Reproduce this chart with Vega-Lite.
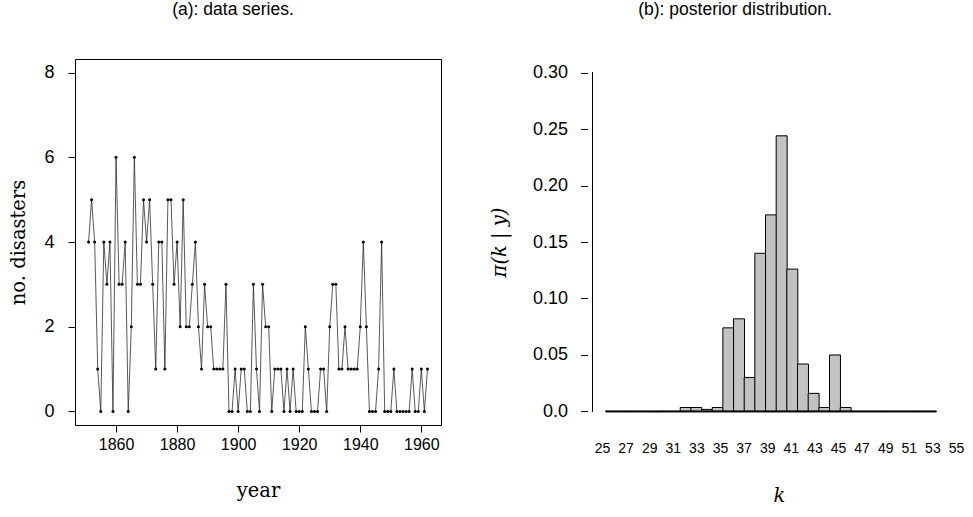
{
  "$schema": "https://vega.github.io/schema/vega-lite/v6.json",
  "background": "white",
  "padding": {"left": 8, "top": 0, "right": 5, "bottom": 3},
  "bounds": "flush",
  "spacing": 146.5,
  "config": {
    "view": {"stroke": null},
    "axis": {"grid": false, "labelFont": "Liberation Sans", "titleFont": "DejaVu Serif", "labelColor": "black", "titleColor": "black", "tickColor": "black", "domainColor": "black", "titleFontWeight": "normal", "labelFontSize": 16, "titleFontSize": 19.5},
    "title": {"font": "Liberation Sans", "fontSize": 17.5, "fontWeight": "normal", "color": "black"}
  },
  "hconcat": [
    {
      "title": {"text": "(a): data series.", "dx": -25, "offset": 41},
      "width": 366,
      "height": 366,
      "view": {"stroke": "black", "strokeWidth": 1},
      "data": {"values": [
        {"year":1851,"disasters":4},{"year":1852,"disasters":5},{"year":1853,"disasters":4},{"year":1854,"disasters":1},{"year":1855,"disasters":0},
        {"year":1856,"disasters":4},{"year":1857,"disasters":3},{"year":1858,"disasters":4},{"year":1859,"disasters":0},{"year":1860,"disasters":6},
        {"year":1861,"disasters":3},{"year":1862,"disasters":3},{"year":1863,"disasters":4},{"year":1864,"disasters":0},{"year":1865,"disasters":2},
        {"year":1866,"disasters":6},{"year":1867,"disasters":3},{"year":1868,"disasters":3},{"year":1869,"disasters":5},{"year":1870,"disasters":4},
        {"year":1871,"disasters":5},{"year":1872,"disasters":3},{"year":1873,"disasters":1},{"year":1874,"disasters":4},{"year":1875,"disasters":4},
        {"year":1876,"disasters":1},{"year":1877,"disasters":5},{"year":1878,"disasters":5},{"year":1879,"disasters":3},{"year":1880,"disasters":4},
        {"year":1881,"disasters":2},{"year":1882,"disasters":5},{"year":1883,"disasters":2},{"year":1884,"disasters":2},{"year":1885,"disasters":3},
        {"year":1886,"disasters":4},{"year":1887,"disasters":2},{"year":1888,"disasters":1},{"year":1889,"disasters":3},{"year":1890,"disasters":2},
        {"year":1891,"disasters":2},{"year":1892,"disasters":1},{"year":1893,"disasters":1},{"year":1894,"disasters":1},{"year":1895,"disasters":1},
        {"year":1896,"disasters":3},{"year":1897,"disasters":0},{"year":1898,"disasters":0},{"year":1899,"disasters":1},{"year":1900,"disasters":0},
        {"year":1901,"disasters":1},{"year":1902,"disasters":1},{"year":1903,"disasters":0},{"year":1904,"disasters":0},{"year":1905,"disasters":3},
        {"year":1906,"disasters":1},{"year":1907,"disasters":0},{"year":1908,"disasters":3},{"year":1909,"disasters":2},{"year":1910,"disasters":2},
        {"year":1911,"disasters":0},{"year":1912,"disasters":1},{"year":1913,"disasters":1},{"year":1914,"disasters":1},{"year":1915,"disasters":0},
        {"year":1916,"disasters":1},{"year":1917,"disasters":0},{"year":1918,"disasters":1},{"year":1919,"disasters":0},{"year":1920,"disasters":0},
        {"year":1921,"disasters":0},{"year":1922,"disasters":2},{"year":1923,"disasters":1},{"year":1924,"disasters":0},{"year":1925,"disasters":0},
        {"year":1926,"disasters":0},{"year":1927,"disasters":1},{"year":1928,"disasters":1},{"year":1929,"disasters":0},{"year":1930,"disasters":2},
        {"year":1931,"disasters":3},{"year":1932,"disasters":3},{"year":1933,"disasters":1},{"year":1934,"disasters":1},{"year":1935,"disasters":2},
        {"year":1936,"disasters":1},{"year":1937,"disasters":1},{"year":1938,"disasters":1},{"year":1939,"disasters":1},{"year":1940,"disasters":2},
        {"year":1941,"disasters":4},{"year":1942,"disasters":2},{"year":1943,"disasters":0},{"year":1944,"disasters":0},{"year":1945,"disasters":0},
        {"year":1946,"disasters":1},{"year":1947,"disasters":4},{"year":1948,"disasters":0},{"year":1949,"disasters":0},{"year":1950,"disasters":0},
        {"year":1951,"disasters":1},{"year":1952,"disasters":0},{"year":1953,"disasters":0},{"year":1954,"disasters":0},{"year":1955,"disasters":0},
        {"year":1956,"disasters":0},{"year":1957,"disasters":1},{"year":1958,"disasters":0},{"year":1959,"disasters":0},{"year":1960,"disasters":1},
        {"year":1961,"disasters":0},{"year":1962,"disasters":1}
      ]},
      "encoding": {
        "x": {"field": "year", "type": "quantitative",
              "scale": {"domain": [1846.56, 1966.44], "nice": false, "zero": false},
              "axis": {"values": [1860, 1880, 1900, 1920, 1940, 1960], "format": "d", "title": "year", "domain": false, "tickSize": 7, "labelPadding": 4, "titlePadding": 29}},
        "y": {"field": "disasters", "type": "quantitative",
              "scale": {"domain": [-0.32, 8.32], "nice": false, "zero": false},
              "axis": {"values": [0, 2, 4, 6, 8], "title": "no. disasters", "domain": false, "tickSize": 7, "labelAngle": 0, "labelFontSize": 18, "labelPadding": 14, "titlePadding": 15}}
      },
      "layer": [
        {"mark": {"type": "line", "color": "#222222", "strokeWidth": 0.75}},
        {"mark": {"type": "point", "filled": true, "color": "black", "size": 9, "opacity": 1}}
      ]
    },
    {
      "title": {"text": "(b): posterior distribution.", "dx": -36, "offset": 41},
      "width": 367,
      "height": 366,
      "data": {"values": [
        {"k":25,"p":0},{"k":26,"p":0},{"k":27,"p":0},{"k":28,"p":0},{"k":29,"p":0},{"k":30,"p":0},{"k":31,"p":0},
        {"k":32,"p":0.0035},{"k":33,"p":0.0035},{"k":34,"p":0.0018},{"k":35,"p":0.0035},{"k":36,"p":0.074},
        {"k":37,"p":0.082},{"k":38,"p":0.030},{"k":39,"p":0.140},{"k":40,"p":0.174},{"k":41,"p":0.244},
        {"k":42,"p":0.126},{"k":43,"p":0.042},{"k":44,"p":0.016},{"k":45,"p":0.0035},{"k":46,"p":0.050},
        {"k":47,"p":0.0035},{"k":48,"p":0},{"k":49,"p":0},{"k":50,"p":0},{"k":51,"p":0},{"k":52,"p":0},
        {"k":53,"p":0},{"k":54,"p":0},{"k":55,"p":0}
      ]},
      "resolve": {"scale": {"x": "independent"}, "axis": {"x": "independent"}},
      "layer": [
        {
          "encoding": {
            "x": {"field": "k", "type": "quantitative", "scale": {"domain": [23.26, 56.74], "nice": false, "zero": false}, "axis": null}
          },
          "layer": [
            {"mark": {"type": "bar", "width": 10.96, "fill": "#c2c2c2", "stroke": "black", "strokeWidth": 1},
             "encoding": {
               "y": {"field": "p", "type": "quantitative",
                     "scale": {"domain": [-0.012, 0.312], "nice": false, "zero": false},
                     "axis": {"values": [0, 0.05, 0.1, 0.15, 0.2, 0.25, 0.3], "labelExpr": "datum.value == 0 ? '0.0' : format(datum.value, '.2f')", "title": "π(k | y)", "titleFontStyle": "italic", "domain": false, "tickSize": 7, "labelAngle": 0, "labelFontSize": 18, "labelPadding": 13, "titlePadding": 23}}
             }},
            {"mark": {"type": "tick", "orient": "horizontal", "size": 10.96, "thickness": 2, "color": "black", "opacity": 1},
             "encoding": {"y": {"datum": 0}}},
            {"mark": {"type": "rule", "color": "black", "strokeWidth": 1},
             "encoding": {"x": {"datum": 23.26}, "y": {"datum": 0}, "y2": {"datum": 0.3}}}
          ]
        },
        {
          "mark": {"type": "point", "opacity": 0},
          "encoding": {
            "x": {"field": "k", "type": "quantitative",
                  "scale": {"domain": [25, 55], "range": [14.5, 368.5], "nice": false, "zero": false},
                  "axis": {"orient": "bottom", "values": [25, 27, 29, 31, 33, 35, 37, 39, 41, 43, 45, 47, 49, 51, 53, 55], "domain": false, "ticks": false, "labelPadding": 16, "labelFontSize": 14, "labelOverlap": false, "labelFlush": false, "title": "k", "titleFontStyle": "italic", "titlePadding": 31}}
          }
        }
      ]
    }
  ]
}
